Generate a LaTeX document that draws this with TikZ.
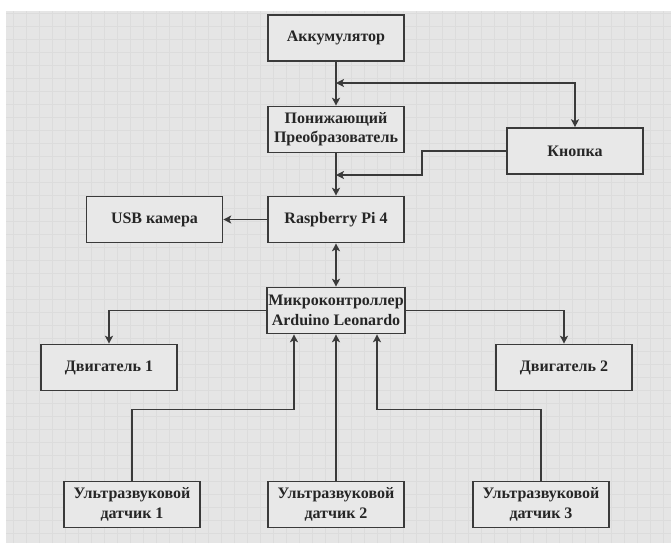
\documentclass[tikz,border=0pt]{standalone}
\usepackage{fontspec}
\setmainfont{Liberation Serif}
\usepackage{tikz}
\usetikzlibrary{arrows.meta,calc}
\definecolor{paper}{HTML}{E5E5E5}
\definecolor{gridln}{HTML}{DCDCDC}
\definecolor{boxfill}{HTML}{E8E8E8}
\definecolor{ink}{HTML}{262626}
\definecolor{edge}{HTML}{3A3A3A}

\begin{document}
\begin{tikzpicture}[x=0.75pt,y=-0.75pt,
  blk/.style={draw=edge,fill=boxfill,line width=1.2pt,minimum width=102pt,minimum height=34.5pt,inner sep=1pt,align=center,text=ink,font=\bfseries\fontsize{12}{14.5}\selectfont},
  arr/.style={-{Stealth[length=6pt,width=6pt,inset=1.5pt]},line width=1pt,edge},
  arrbi/.style={{Stealth[length=6pt,width=6pt,inset=1.5pt]}-{Stealth[length=6pt,width=6pt,inset=1.5pt]},line width=1pt,edge}]
\useasboundingbox (0,0) rectangle (671,543);
\fill[white] (0,0) rectangle (671,543);
\fill[paper] (6,11) rectangle (671,543);
\draw[gridln,line width=0.25pt,step=9.75pt] (6,11) grid (671,543);
% blocks
\node[blk] (akk) at (336,38) {Аккумулятор};
\node[blk] (pon) at (336,129.5) {Понижающий\\Преобразователь};
\node[blk] (knp) at (575,151) {Кнопка};
\node[blk] (rpi) at (336,219.5) {Raspberry Pi 4};
\node[blk] (usb) at (154.5,219.5) {USB камера};
\node[blk] (mcu) at (336,310.5) {Микроконтроллер\\Arduino Leonardo};
\node[blk] (dv1) at (109,367.5) {Двигатель 1};
\node[blk] (dv2) at (564,367.5) {Двигатель 2};
\node[blk] (us1) at (132,504.5) {Ультразвуковой\\датчик 1};
\node[blk] (us2) at (336,504.5) {Ультразвуковой\\датчик 2};
\node[blk] (us3) at (541,504.5) {Ультразвуковой\\датчик 3};
\coordinate (j1) at (336,83);
\coordinate (j2) at (336,175);
% links
\foreach \a/\b in {akk/pon,pon/rpi,rpi/usb,us2/mcu}{\draw[arr](\a)--(\b);}
\draw[arrbi] (rpi)--(mcu);
\draw[arrbi] (j1) -| (knp.north);
\draw[arr] (knp.west) -| (422,175) -- (j2);
\draw[arr] (mcu.west) -| (dv1.north);
\draw[arr] (mcu.east) -| (dv2.north);
\draw[arr] (us1.north) |- ($(mcu.south)+(-42,75)$) -- ($(mcu.south)+(-42,0)$);
\draw[arr] (us3.north) |- ($(mcu.south)+(41,75)$) -- ($(mcu.south)+(41,0)$);
\end{tikzpicture}
\end{document}
